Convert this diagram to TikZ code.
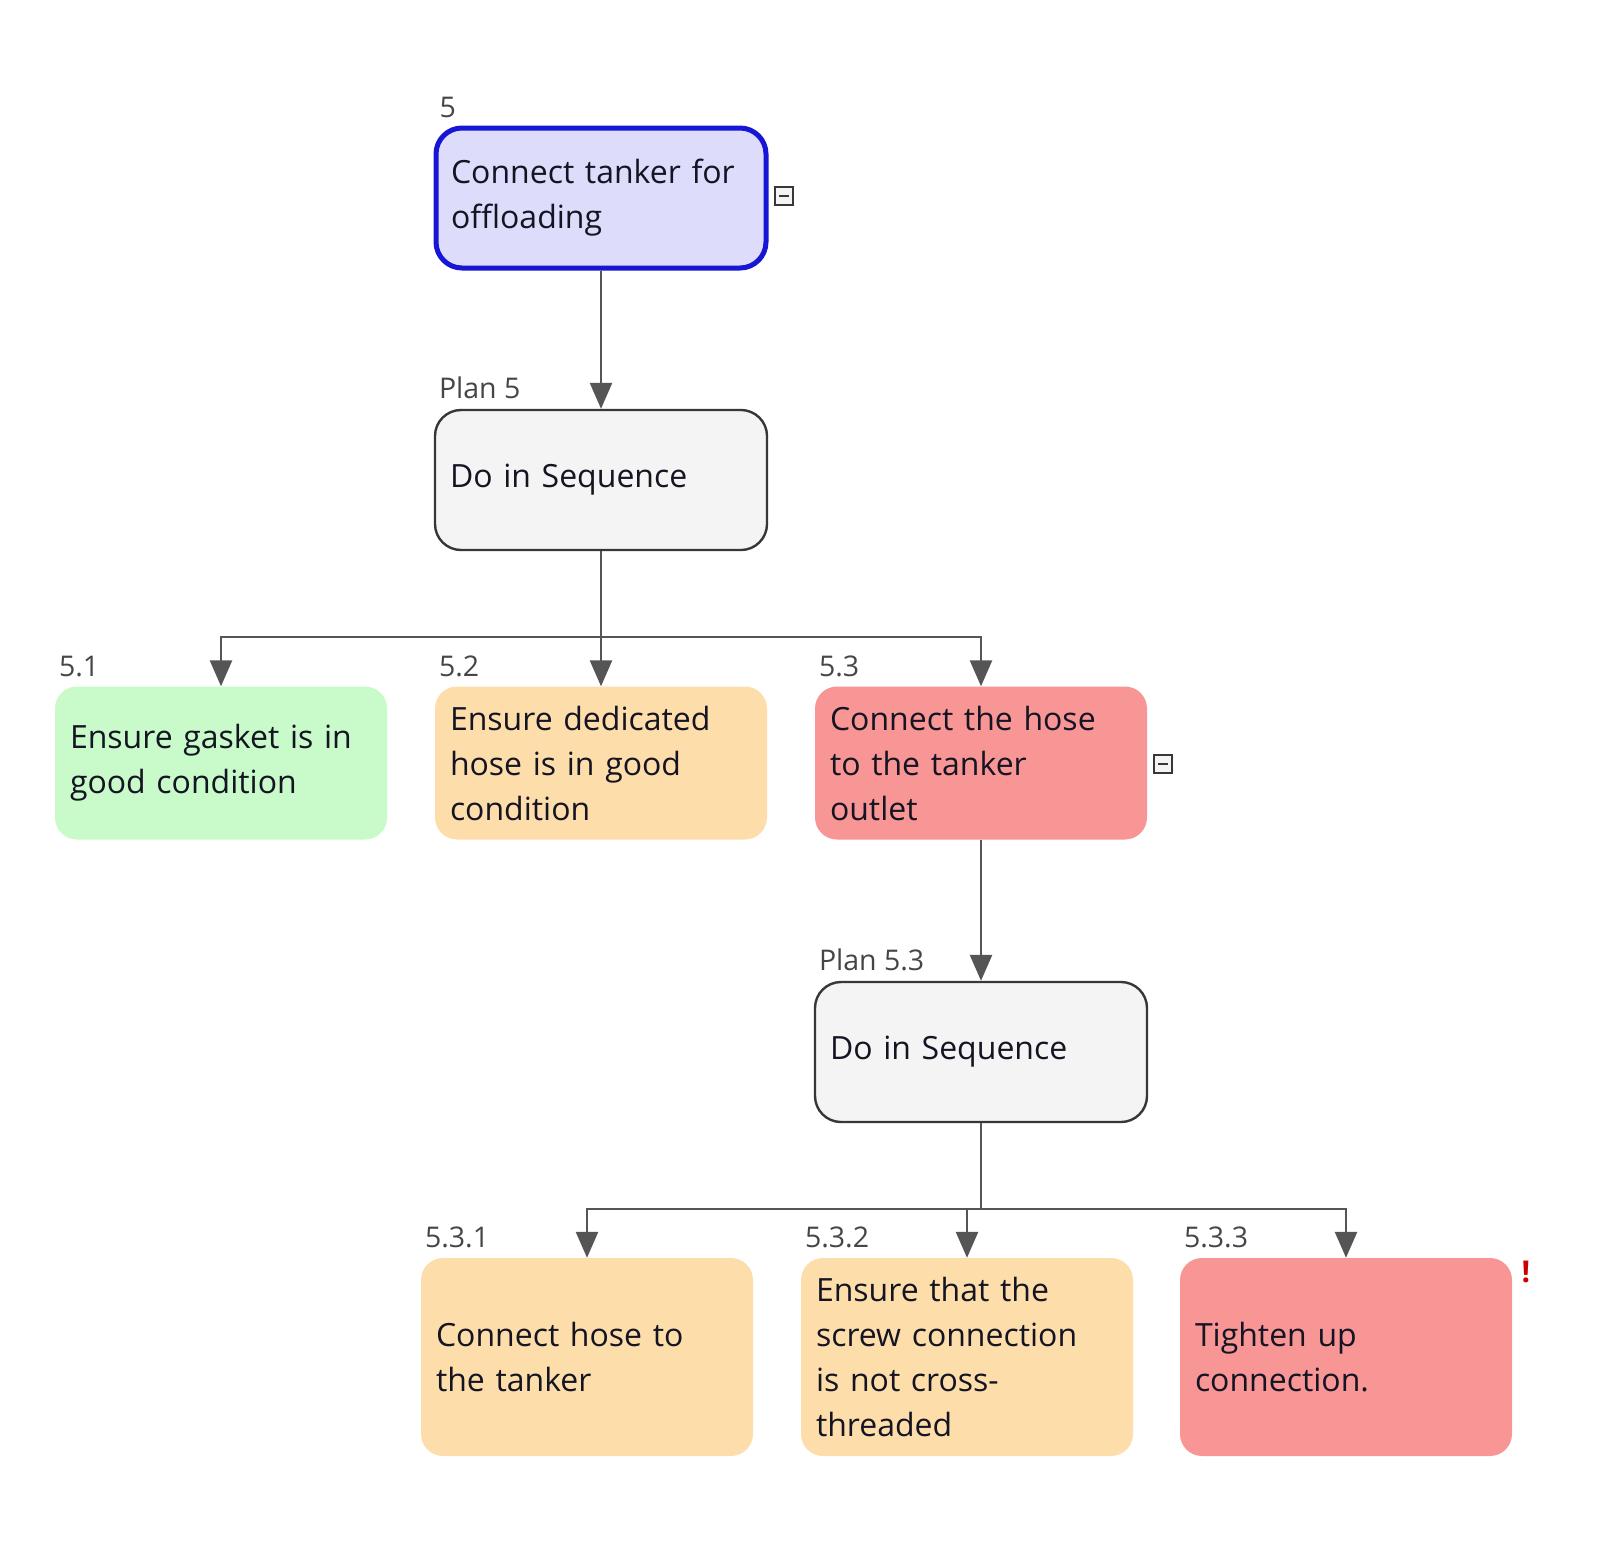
\documentclass[tikz,border=0pt]{standalone}
\usepackage{fontspec}
\setmainfont{Open Sans}
\usetikzlibrary{arrows.meta,positioning,calc}
\definecolor{cTop}     {RGB}{221,221,251}
\definecolor{cTopLine} {RGB}{22,22,212}
\definecolor{cPlan}    {RGB}{244,244,244}
\definecolor{cPlanLine}{RGB}{55,55,55}
\definecolor{cGood}    {RGB}{201,250,201}
\definecolor{cWarn}    {RGB}{253,222,170}
\definecolor{cBad}     {RGB}{248,150,150}
\definecolor{cLink}    {RGB}{85,85,85}
\definecolor{cNum}     {RGB}{70,70,70}
\definecolor{cText}    {RGB}{20,20,35}
\tikzset{
  >={Triangle[width=22pt,length=26pt]},
  task/.style={rectangle,rounded corners=22pt,text width=302pt,inner xsep=15pt,
               inner ysep=0pt,align=left,font=\fontsize{32}{45}\selectfont,text=cText},
  taskG/.style={task,fill=cGood,minimum height=153pt},
  taskW/.style={task,fill=cWarn},
  taskB/.style={task,fill=cBad},
  goal/.style={task,fill=cTop,draw=cTopLine,line width=5pt,rounded corners=26pt,
               minimum height=140pt,text width=300pt},
  plan/.style={task,fill=cPlan,draw=cPlanLine,line width=2.4pt,rounded corners=26pt,
               minimum height=140pt},
  numlbl/.style={font=\fontsize{28.5}{32}\selectfont,text=cNum,inner sep=0pt,anchor=base west},
  tog/.style={draw=cPlanLine,fill=cPlan,minimum size=18pt,inner sep=0pt,line width=1.3pt}, % collapse box
  link/.style={cLink,line width=2.6pt},
}
\begin{document}
\begin{tikzpicture}[x=1pt,y=-1pt]
  \useasboundingbox[fill=white] (0,0) rectangle (1614,1542);

  % ---- goal and plan 5 ----
  \node[goal] (t5) at (601,198) {Connect tanker for\\offloading};
  \node[plan] (p5) at (601,480) {Do in Sequence};

  % ---- subtasks of 5 ----
  \node[taskG]                    (t51) at (221,763) {Ensure gasket is in\\good condition};
  \node[taskW,minimum height=153pt] (t52) at (601,763) {Ensure dedicated\\hose is in good\\condition};
  \node[taskB,minimum height=153pt] (t53) at (981,763) {Connect the hose\\to the tanker\\outlet};

  % ---- plan 5.3 and its subtasks ----
  \node[plan] (p53) at (981,1052) {Do in Sequence};
  \node[taskW,minimum height=198pt] (t531) at (587,1357)  {Connect hose to\\the tanker};
  \node[taskW,minimum height=198pt] (t532) at (967,1357)  {Ensure that the\\screw connection\\is not cross-\\threaded};
  \node[taskB,minimum height=198pt] (t533) at (1346,1357) {Tighten up\\connection.};

  % ---- numbers above the boxes ----
  \node[numlbl] (n5)   at ($(t5.north west)+(6,-8)$)   {5};
  \node[numlbl] (n5p)  at ($(p5.north west)+(5,-10)$)  {Plan 5};
  \node[numlbl] (n51)  at ($(t51.north west)+(4,-10)$) {5.1};
  \node[numlbl] (n52)  at ($(t52.north west)+(4,-10)$) {5.2};
  \node[numlbl] (n53)  at ($(t53.north west)+(4,-10)$) {5.3};
  \node[numlbl] (n53p) at ($(p53.north west)+(5,-10)$) {Plan 5.3};
  \node[numlbl] (n531) at ($(t531.north west)+(4,-10)$) {5.3.1};
  \node[numlbl] (n532) at ($(t532.north west)+(4,-10)$) {5.3.2};
  \node[numlbl] (n533) at ($(t533.north west)+(4,-10)$) {5.3.3};

  % ---- collapse boxes and warning ----
  \foreach \n/\p in {m5/{(784,196)},m53/{(1163,764)}}{
    \node[tog] (\n) at \p {};
    \draw[cPlanLine,line width=2pt] ($(\n.center)+(-5,0)$) -- ($(\n.center)+(5,0)$);
  }
  \node[font=\fontsize{30}{30}\selectfont\bfseries,text=red!80!black,inner sep=0pt] (warn) at (1526,1272) {!};

  % ---- connectors ----
  \coordinate (bus5)  at (601,637);
  \coordinate (bus53) at (981,1209);
  \draw[link,->] (t5) -- (p5);
  \draw[link] (p5) -- (bus5);
  \foreach \t in {t51,t52,t53}
    \draw[link,->] (bus5) -| (\t);
  \draw[link,->] (t53) -- (p53);
  \draw[link] (p53) -- (bus53);
  \foreach \t in {t531,t532,t533}
    \draw[link,->] (bus53) -| (\t);
\end{tikzpicture}
\end{document}
